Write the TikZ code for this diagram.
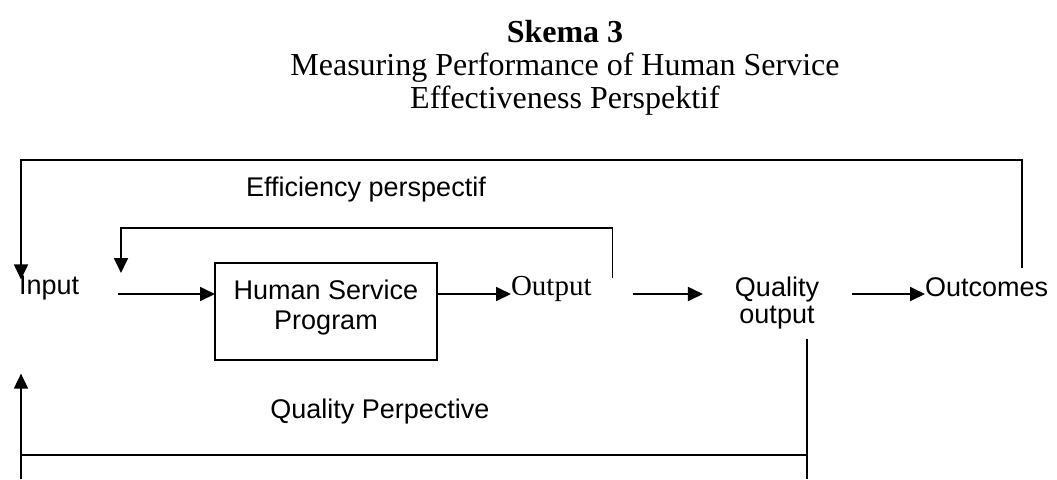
\documentclass[tikz,border=0pt]{standalone}
\usepackage{fontspec}
\setmainfont{Liberation Serif}
\setsansfont{Liberation Sans}
\usetikzlibrary{arrows.meta, calc, positioning}

\begin{document}
\begin{tikzpicture}[x=0.5pt, y=-0.5pt,
every node/.style = {inner sep=0pt, outer sep=0pt},
lbl/.style  = {font=\sffamily\fontsize{13.5}{13.5}\selectfont, align=center},
box/.style  = {draw, line width=0.75pt,
               minimum width=111pt, minimum height=48.5pt,
               font=\sffamily\fontsize{13.5}{15}\selectfont, align=center},
line/.style = {line width=0.9pt},
arr/.style  = {line width=0.9pt, -{Triangle[length=7.5pt,width=7pt]}},
                    ]
\useasboundingbox (0,0) rectangle (1057,479);

%--- heading
\node (title) [anchor=north, align=center,
               font=\fontsize{16}{16.5}\selectfont] at (565,20)
      {\textbf{Skema 3}\\ Measuring Performance of Human Service\\
       Effectiveness Perspektif};

%--- stages
\node (in)  [lbl, anchor=base west] at (19,294) {Input};
\node (hsp) [box] at (326,311.5) {Human Service\\ Program\rule[-7pt]{0pt}{7pt}};
\node (out) [anchor=base west, font=\fontsize{14.5}{14.5}\selectfont]
            at (511,295) {Output};
\node (qo)  [lbl, anchor=north] at (777,277) {Quality\\ output};
\node (oc)  [lbl, anchor=base west] at (925,296) {Outcomes};

\node (eff) [lbl] at (366,190) {Efficiency perspectif};
\node (qp)  [lbl] at (380,412) {Quality Perpective};

%--- corners of the loops
\coordinate (start)  at (118,294);
\coordinate (efftop) at (366,228);
\coordinate (outtop) at (520,160);
\coordinate (qbot)   at (400,455);
\coordinate (bottom) at (400,479);
\coordinate (qfoot)  at ([shift={(-6pt,-5pt)}]qo.south east);
\coordinate (ifoot)  at ([shift={(1pt,-37pt)}]in.south west);

% forward path
\path[arr]
        (start) edge (hsp.west |- start)
        (hsp.east |- start) edge (out.west |- start)
        ([xshift=20.5pt]out.east |- start) edge ([xshift=-16pt]qo.west |- start)
        ([xshift=16.5pt]qo.east |- start) edge (oc.west |- start);

% efficiency loop
\draw[arr] ([shift={(10.5pt,-1pt)}]out.north east) |- (efftop)
        -| ([shift={(1.5pt,10.5pt)}]start);
% effectiveness loop
\draw[arr] ([shift={(-13pt,4.5pt)}]oc.north east) |- (outtop)
        -| ([shift={(1pt,-2pt)}]in.north west);
% quality loop
\draw[line] (qfoot) -- (qfoot |- bottom)
        (qfoot |- qbot) -- (ifoot |- qbot);
\draw[arr] (ifoot |- bottom) -- (ifoot);
\end{tikzpicture}
\end{document}
